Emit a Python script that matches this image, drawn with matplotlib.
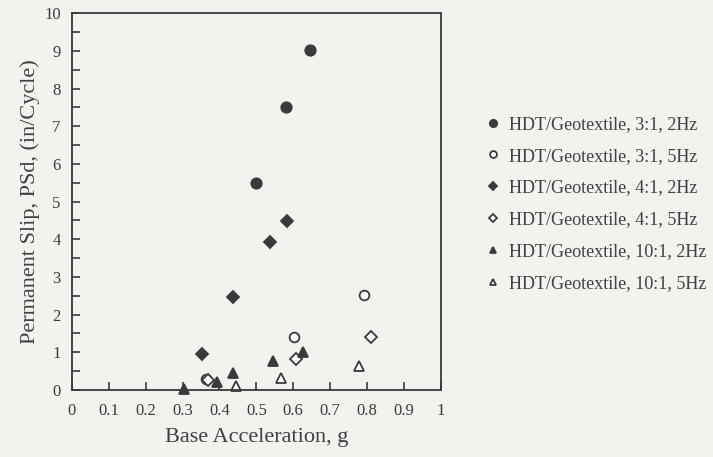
import numpy as np
import matplotlib
matplotlib.use("Agg")
import matplotlib.pyplot as plt

plt.rcParams['font.family'] = ['Liberation Serif', 'DejaVu Serif']

# base acceleration (g) vs permanent slip (in/cycle)
acc_31_2 = [0.498, 0.580, 0.645]
slip_31_2 = [5.5, 7.52, 9.03]

acc_31_5 = [0.363, 0.603, 0.792]
slip_31_5 = [0.29, 1.42, 2.53]

acc_41_2 = [0.352, 0.437, 0.537, 0.583]
slip_41_2 = [0.96, 2.46, 3.93, 4.49]

acc_41_5 = [0.368, 0.606, 0.811]
slip_41_5 = [0.27, 0.81, 1.40]

acc_101_2 = [0.304, 0.393, 0.438, 0.544, 0.626]
slip_101_2 = [0.03, 0.22, 0.45, 0.78, 1.02]

acc_101_5 = [0.445, 0.566, 0.777]
slip_101_5 = [0.11, 0.31, 0.65]

labels = ['HDT/Geotextile, 3:1, 2Hz', 'HDT/Geotextile, 3:1, 5Hz',
          'HDT/Geotextile, 4:1, 2Hz', 'HDT/Geotextile, 4:1, 5Hz',
          'HDT/Geotextile, 10:1, 2Hz', 'HDT/Geotextile, 10:1, 5Hz']

ink = '#3a3a3a'
paper = '#f3f2ef'

fig = plt.figure(figsize=(7.13, 4.57), dpi=100, facecolor=paper)
ax = fig.add_axes([0.1006, 0.1466, 0.5179, 0.8244])
ax.set_facecolor(paper)

series = [
    (acc_31_2, slip_31_2, 'o', True, 7.5),
    (acc_31_5, slip_31_5, 'o', False, 7.0),
    (acc_41_2, slip_41_2, 'D', True, 5.8),
    (acc_41_5, slip_41_5, 'D', False, 5.8),
    (acc_101_2, slip_101_2, '^', True, 7.0),
    (acc_101_5, slip_101_5, '^', False, 7.0),
]
handles = []
for (x, y, m, filled, ms), lab in zip(series, labels):
    h, = ax.plot(x, y, linestyle='none', marker=m, markersize=ms,
                 markerfacecolor=ink if filled else 'white',
                 markeredgecolor=ink, markeredgewidth=1.3, label=lab,
                 clip_on=False)
    handles.append(h)

ax.set_xlim(0, 1)
ax.set_ylim(0, 10)
ax.set_xticks(np.arange(0, 1.01, 0.1))
ax.set_xticklabels(['0', '0.1', '0.2', '0.3', '0.4', '0.5', '0.6', '0.7', '0.8', '0.9', '1'])
ax.set_yticks(np.arange(0, 10.1, 1))
ax.set_yticks(np.arange(0, 10.1, 0.5), minor=True)
ax.tick_params(direction='in', length=6, width=1.2, colors=ink, labelsize=12, pad=8)
ax.tick_params(which='minor', direction='in', length=6, width=1.2, colors=ink)
ax.tick_params(axis='x', pad=9)
for s in ax.spines.values():
    s.set_color(ink)
    s.set_linewidth(1.3)

ax.set_xlabel('Base Acceleration, g', fontsize=16, color='#404040', labelpad=7)
ax.set_ylabel('Permanent Slip, PSd, (in/Cycle)', fontsize=16, color='#404040', labelpad=3)

fig.legend(handles=handles, loc='upper left', bbox_to_anchor=(0.656, 0.782),
           frameon=False, fontsize=13, labelspacing=0.82, handletextpad=0.4,
           handlelength=1.0, labelcolor='#404040', markerscale=0.7)

fig.savefig('out.png', dpi=100, facecolor=paper)
